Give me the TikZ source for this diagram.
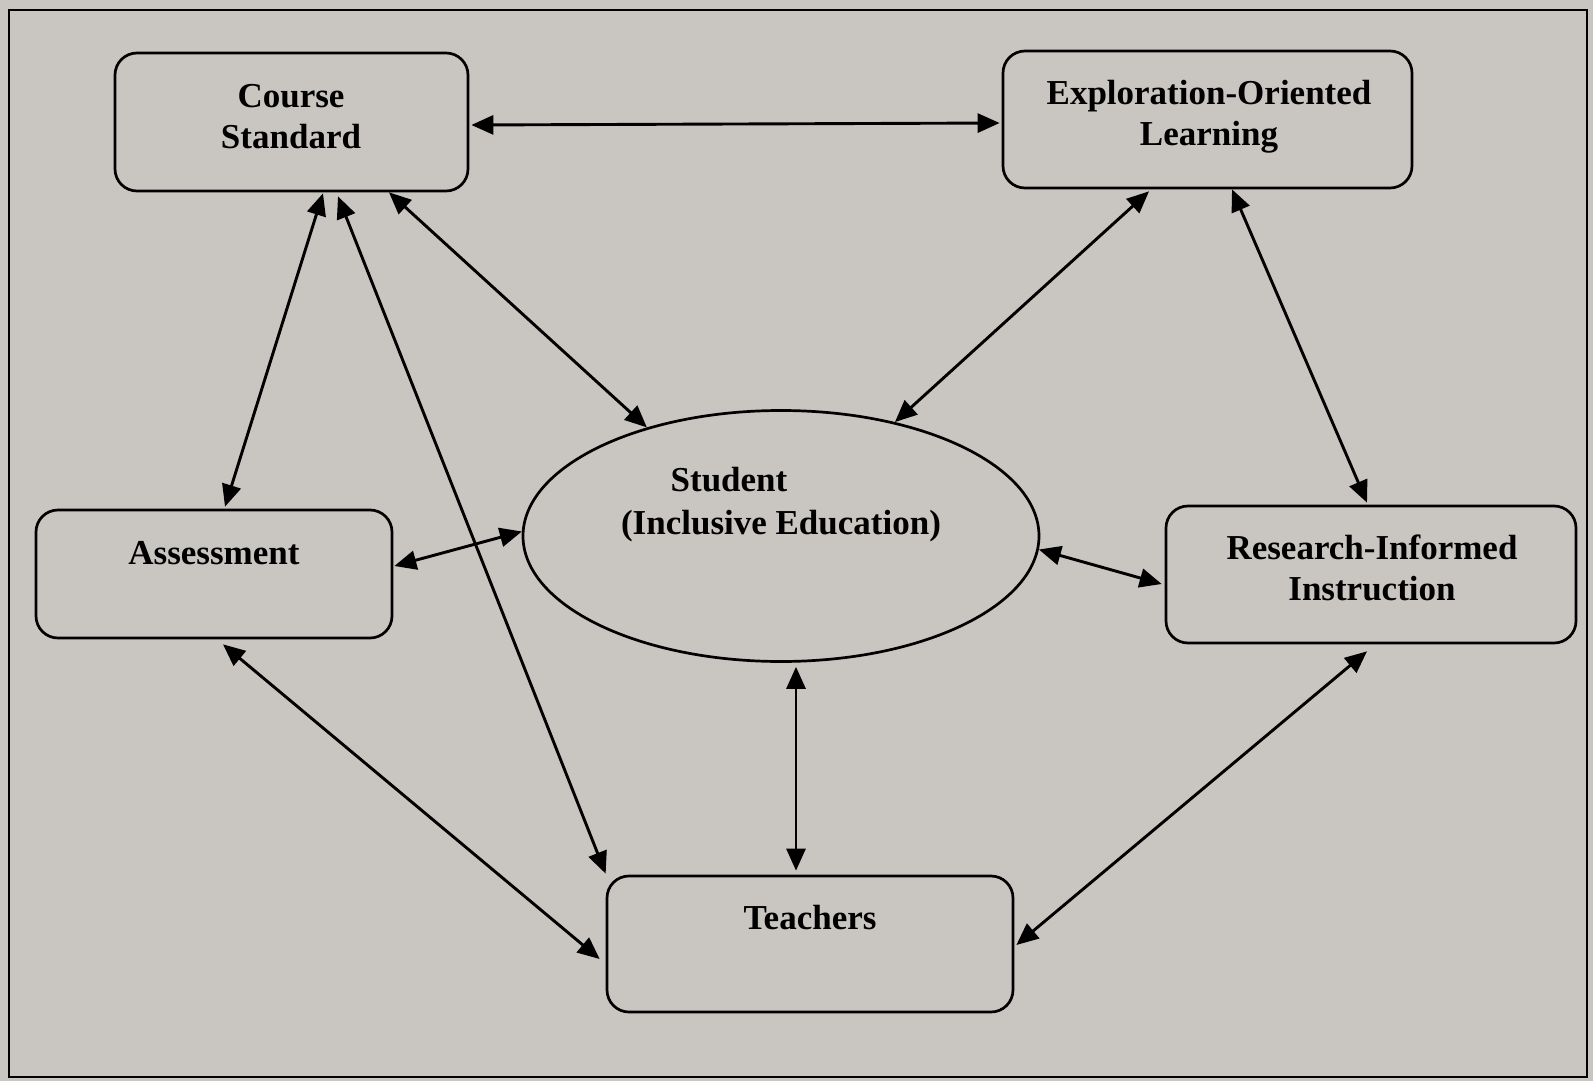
\documentclass[tikz,border=0pt]{standalone}
\usepackage{fontspec}
\setmainfont{Liberation Serif}
\usetikzlibrary{arrows.meta,calc,shapes.geometric}
\definecolor{bg}{RGB}{201,197,192}
\begin{document}
\begin{tikzpicture}[x=1pt,y=-1pt,
  box/.style={draw=black,line width=2.7pt,rounded corners=22pt,inner sep=0pt},
  oval/.style={draw=black,line width=2.7pt,ellipse,inner sep=0pt},
  lbl/.style={font=\fontsize{35}{41}\selectfont\bfseries,align=center,inner sep=0pt},
  link/.style={line width=2.9pt,{Triangle[length=22pt,width=19pt]}-{Triangle[length=22pt,width=19pt]}}]
\fill[bg] (0,0) rectangle (1593,1081);
\useasboundingbox (0,0) rectangle (1593,1081);
\draw[line width=2.6pt] (9,10) rectangle (1587,1077);
% boxes
\node[box,minimum width=353pt,minimum height=138pt] (cs) at (291.5,122) {};
\node[box,minimum width=409pt,minimum height=137pt] (eo) at (1207.5,119.5) {};
\node[box,minimum width=356pt,minimum height=128pt] (as) at (214,574) {};
\node[box,minimum width=410pt,minimum height=137pt] (ri) at (1371,574.5) {};
\node[box,minimum width=406pt,minimum height=136pt] (te) at (810,944) {};
\node[oval,minimum width=516pt,minimum height=251pt] (st) at (781,536) {};
% labels
\node[lbl] (cst) at (291,117) {Course\\Standard};
\node[lbl] (eot) at (1209,117) {Exploration-Oriented\\Learning};
\node[lbl,anchor=base] (ast) at (214,564) {Assessment};
\node[lbl] (rit) at (1372,568) {Research-Informed\\Instruction};
\node[lbl,anchor=base] (tet) at (810,929) {Teachers};
\node[lbl,anchor=base] (st1) at (729,491) {Student};
\node[lbl,anchor=base] (st2) at (781,534) {(Inclusive Education)};
% connectors
\draw[link] ($(cs.east)+(2,3)$) -- ($(eo.west)+(-2,3.5)$);
\draw[link] ($(cs.south)+(31.5,1)$) -- ($(as.north)+(11,-2)$);
\draw[link] ($(cs.south)+(46.5,4)$) -- ($(te.north west)+(0,-1)$);
\draw[link] ($(cs.south)+(97.5,0)$) -- (st.141);
\draw[link] ($(eo.south)+(-58.5,2)$) -- (st.45);
\draw[link] ($(eo.south)+(24.5,0)$) -- ($(ri.north)+(-4,-2)$);
\draw[link] ($(as.east)+(1,-8)$) -- (st.179);
\draw[link] (st.-3.5) -- ($(ri.west)+(-3,9.5)$);
\draw[link] ($(st.south)+(15,4)$) -- ($(te.north)+(-14,-4)$);
\draw[link] ($(as.south)+(9,5)$) -- ($(te.west)+(-6,15)$);
\draw[link] ($(ri.south)+(-4,7)$) -- ($(te.east)+(2,1)$);
\end{tikzpicture}
\end{document}
